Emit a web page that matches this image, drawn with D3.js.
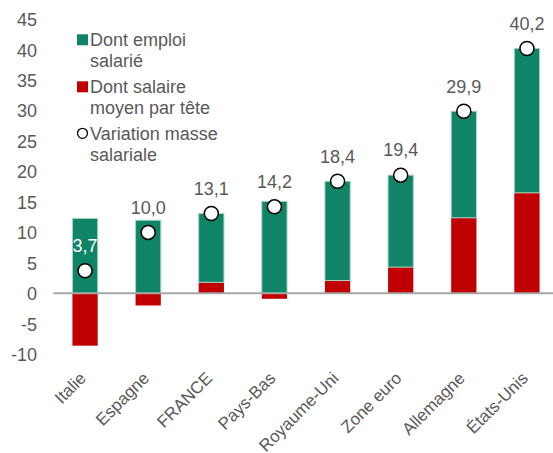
<!DOCTYPE html>
<html>
<head>
<meta charset="utf-8">
<script src="https://cdn.jsdelivr.net/npm/d3@7"></script>
<style>
  html, body { margin: 0; padding: 0; background: #fff; }
  svg { display: block; font-family: Arial, "Liberation Sans", sans-serif; }
</style>
</head>
<body>
<svg id="chart" width="553" height="453"></svg>
<script>
// Décomposition de la variation de la masse salariale (en %)
const categories = ["Italie", "Espagne", "FRANCE", "Pays-Bas", "Royaume-Uni", "Zone euro", "Allemagne", "États-Unis"];
const emploiSalarie = [12.3, 12.0, 11.3, 15.1, 16.3, 15.1, 17.5, 23.7];
const salaireMoyen = [-8.6, -2.0, 1.8, -0.9, 2.1, 4.3, 12.4, 16.5];
const masseSalariale = [3.7, 10.0, 13.1, 14.2, 18.4, 19.4, 29.9, 40.2];
const yTicks = [-10, -5, 0, 5, 10, 15, 20, 25, 30, 35, 40, 45];

const colors = { salaire: "#C00000", emploi: "#108467" };

const svg = d3.select("#chart");

const x = d3.scaleBand().domain(categories).range([53.5, 558.5]).paddingInner(0.6).paddingOuter(0.3);
const y = d3.scaleLinear().domain([-10, 45]).range([354.2, 19.3]);

// Table for stacking: salary first (sits on the axis), employment stacked above
const rows = categories.map((c, i) => ({ cat: c, salaire: salaireMoyen[i], emploi: emploiSalarie[i] }));
const stack = d3.stack().keys(["salaire", "emploi"]).offset(d3.stackOffsetDiverging);
const layers = stack(rows);

// Y axis labels (no axis line, no gridlines)
const yAxis = d3.axisLeft(y).tickValues(yTicks).tickSize(0).tickPadding(0).tickFormat(d => String(d));
const gy = svg.append("g").attr("transform", "translate(37,0)").call(yAxis);
gy.select(".domain").remove();
gy.selectAll("text").attr("font-size", 18).attr("fill", "#595959").attr("font-family", "Arial, 'Liberation Sans', sans-serif").attr("dy", "0.35em");

// Bars
svg.append("g").selectAll("g").data(layers).join("g")
  .attr("fill", d => colors[d.key])
  .attr("stroke", d => d.key === "emploi" ? "#a9d3c5" : "none")
  .attr("stroke-width", 1)
  .selectAll("rect").data(d => d).join("rect")
  .attr("x", d => x(d.data.cat))
  .attr("width", x.bandwidth())
  .attr("y", d => y(Math.max(d[0], d[1])))
  .attr("height", d => Math.abs(y(d[0]) - y(d[1])));

// Zero line
svg.append("line")
  .attr("x1", 53.5).attr("x2", 553)
  .attr("y1", y(0)).attr("y2", y(0))
  .attr("stroke", "#A6A6A6").attr("stroke-width", 2);

// Markers for total change
svg.append("g").selectAll("circle").data(masseSalariale).join("circle")
  .attr("cx", (d, i) => x(categories[i]) + x.bandwidth() / 2)
  .attr("cy", d => y(d))
  .attr("r", 7)
  .attr("fill", "#fff")
  .attr("stroke", "#000")
  .attr("stroke-width", 1.5);

// Value labels
const fmt = v => d3.format(".1f")(v).replace(".", ",");
svg.append("g").selectAll("text").data(masseSalariale).join("text")
  .attr("x", (d, i) => x(categories[i]) + x.bandwidth() / 2)
  .attr("y", d => y(d) - 25)
  .attr("dy", "0.35em")
  .attr("text-anchor", "middle")
  .attr("font-size", 18)
  .attr("fill", (d, i) => i === 0 ? "#ffffff" : "#595959")
  .text(d => fmt(d));

// Category labels, rotated
const xAxis = d3.axisBottom(x).tickSize(0).tickPadding(0);
const gx = svg.append("g").attr("transform", `translate(0,${y(0)})`).call(xAxis);
gx.select(".domain").remove();
gx.selectAll("text")
  .attr("font-size", 17)
  .attr("fill", "#595959")
  .attr("font-family", "Arial, 'Liberation Sans', sans-serif")
  .attr("text-anchor", "end")
  .attr("dy", 0)
  .attr("transform", "translate(2,86) rotate(-45)")
  .attr("y", 0).attr("x", 0);

// Legend
const legend = [
  { color: colors.emploi, lines: ["Dont emploi", "salarié"], marker: "rect" },
  { color: colors.salaire, lines: ["Dont salaire", "moyen par tête"], marker: "rect" },
  { color: "#fff", lines: ["Variation masse", "salariale"], marker: "circle" }
];
const lg = svg.append("g");
legend.forEach((item, k) => {
  const top = 39.3 + k * 47;
  if (item.marker === "rect") {
    lg.append("rect").attr("x", 77).attr("y", top - 5).attr("width", 11).attr("height", 11).attr("fill", item.color);
  } else {
    lg.append("circle").attr("cx", 82.5).attr("cy", top).attr("r", 5).attr("fill", "#fff").attr("stroke", "#000").attr("stroke-width", 1.3);
  }
  item.lines.forEach((t, j) => {
    lg.append("text").attr("x", 90).attr("y", top + j * 21).attr("dy", "0.35em")
      .attr("font-size", 18).attr("fill", "#595959").text(t);
  });
});
</script>
</body>
</html>
